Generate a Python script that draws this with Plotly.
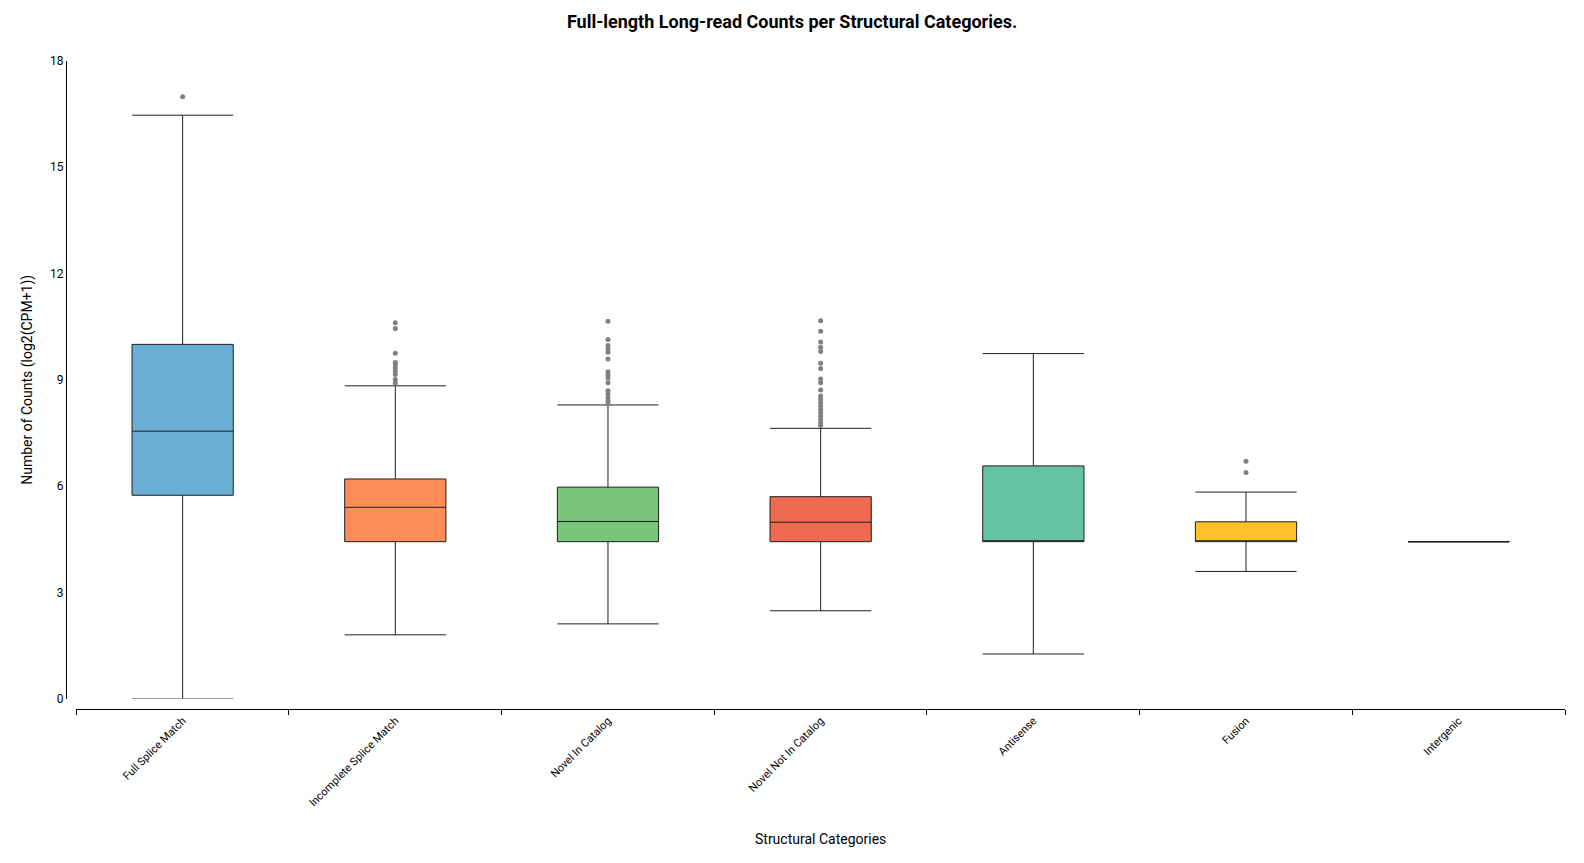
import plotly.graph_objects as go

categories = ["Full Splice Match", "Incomplete Splice Match", "Novel In Catalog",
              "Novel Not In Catalog", "Antisense", "Fusion", "Intergenic"]
q1_vals = [5.74, 4.43, 4.43, 4.43, 4.43, 4.43, 4.43]
median_vals = [7.55, 5.40, 5.00, 4.98, 4.43, 4.43, 4.43]
q3_vals = [10.00, 6.20, 5.97, 5.70, 6.57, 4.99, 4.43]
lower_vals = [0.0, 1.80, 2.11, 2.48, 1.26, 3.59, 4.43]
upper_vals = [16.47, 8.83, 8.29, 7.63, 9.74, 5.83, 4.43]
fill_colors = ["#6BAED6", "#FC8D59", "#78C679", "#EE6A50", "#66C2A4", "#FFC125", "#E9967A"]

outliers_fsm = [16.99]
outliers_ism = [10.61, 10.45, 9.75, 9.49, 9.44, 9.34, 9.25, 9.15, 9.01, 8.91]
outliers_nic = [10.65, 10.14, 9.97, 9.88, 9.78, 9.59, 9.23, 9.14, 9.05, 8.92,
                8.69, 8.59, 8.49, 8.40, 8.32]
outliers_nnc = [10.67, 10.37, 10.07, 9.92, 9.80, 9.47, 9.32, 9.02, 8.92, 8.71,
                8.54, 8.45, 8.35, 8.26, 8.16, 8.07, 7.97, 7.88, 7.78, 7.71]
outliers_antisense = []
outliers_fusion = [6.70, 6.38]
outliers_intergenic = []
outlier_lists = [outliers_fsm, outliers_ism, outliers_nic, outliers_nnc,
                 outliers_antisense, outliers_fusion, outliers_intergenic]

fig = go.Figure()
for i, cat in enumerate(categories):
    fig.add_trace(go.Box(
        x=[cat], q1=[q1_vals[i]], median=[median_vals[i]], q3=[q3_vals[i]],
        lowerfence=[lower_vals[i]], upperfence=[upper_vals[i]],
        fillcolor=fill_colors[i], line=dict(color="#1f1f1f", width=1),
        width=0.476, whiskerwidth=1, boxpoints=False, showlegend=False,
        name=cat,
    ))
    if outlier_lists[i]:
        fig.add_trace(go.Scatter(
            x=[cat] * len(outlier_lists[i]), y=outlier_lists[i], mode="markers",
            marker=dict(color="#808080", size=5), showlegend=False, hoverinfo="y",
        ))

W, H = 1584, 863
ml, mr, mt, mb = 66, 19, 61, 154
pw, ph = W - ml - mr, H - mt - mb

fig.update_layout(
    autosize=True,
    margin=dict(l=ml, r=mr, t=mt, b=mb),
    paper_bgcolor="white", plot_bgcolor="white",
    font=dict(family="Roboto, Arial, sans-serif", color="#000000"),
    boxmode="overlay",
    title=dict(text="<b>Full-length Long-read Counts per Structural Categories.</b>",
               x=0.5, xanchor="center", y=1 - 22 / H, yanchor="middle",
               font=dict(size=18, color="#000000")),
    xaxis=dict(
        type="category", categoryorder="array", categoryarray=categories,
        range=[-0.5, 6.5], domain=[10.3 / pw, 1], anchor="free", position=0,
        showline=True, linecolor="#000000", linewidth=1,
        ticks="outside", tickson="boundaries", ticklen=5, tickcolor="#000000",
        tickangle=-45, tickfont=dict(size=11), showgrid=False, zeroline=False,
        title=dict(text="Structural Categories", font=dict(size=14), standoff=25),
    ),
    yaxis=dict(
        range=[0, 18], dtick=3, tick0=0, domain=[10.4 / ph, 1], anchor="free", position=0,
        showline=True, linecolor="#000000", linewidth=1, ticks="",
        showgrid=False, zeroline=False, tickfont=dict(size=12),
        title=dict(text="Number of Counts (log2(CPM+1))", font=dict(size=14), standoff=13),
    ),
)

post = ("document.documentElement.style.height='100%';"
        "document.documentElement.style.overflow='hidden';"
        "document.body.style.height='100%';document.body.style.margin='0';"
        "document.body.style.overflow='hidden';"
        "Plotly.Plots.resize(document.getElementById('{plot_id}'));")
fig.write_html("out.html", default_width="100%", default_height="100%",
               config={"displayModeBar": False, "responsive": True},
               post_script=post)
